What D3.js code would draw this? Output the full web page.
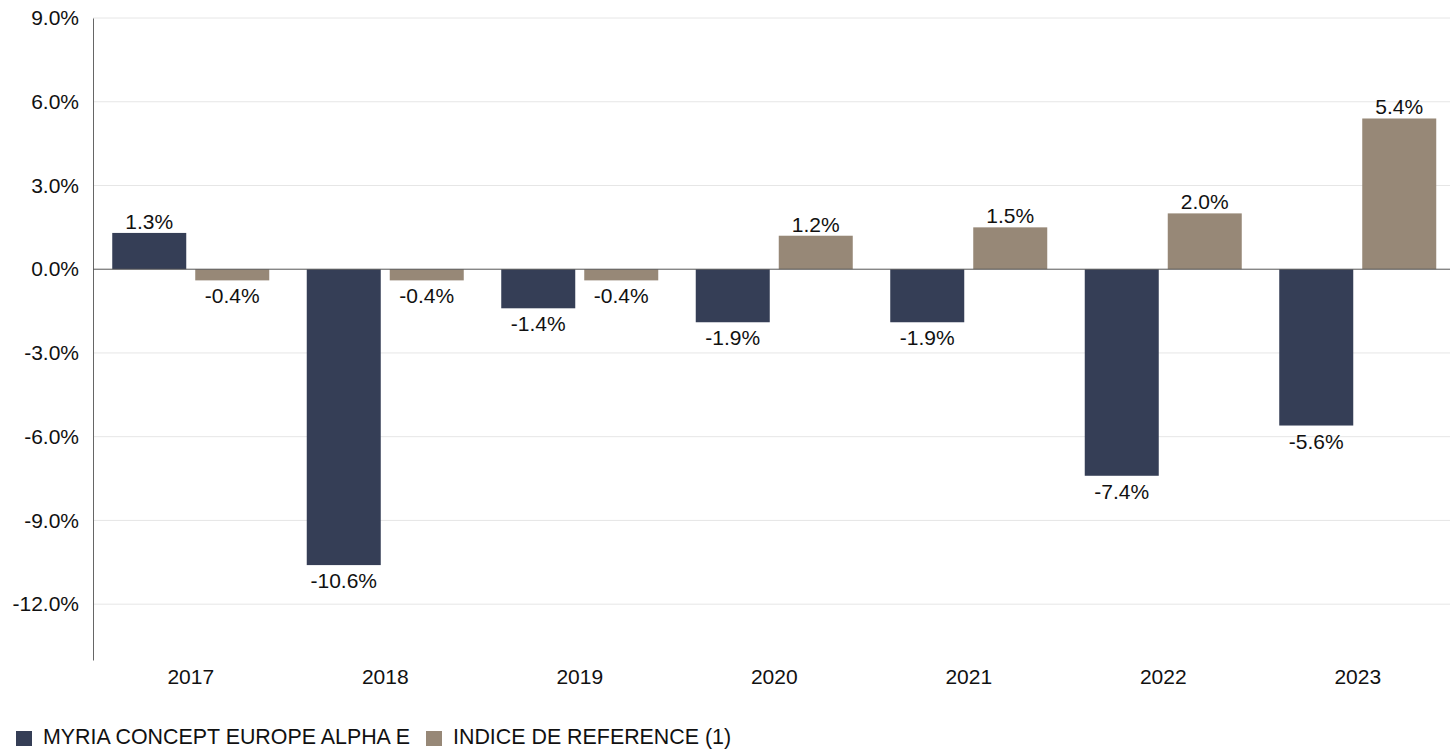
<!DOCTYPE html>
<html>
<head>
<meta charset="utf-8">
<script src="https://cdn.jsdelivr.net/npm/d3@7"></script>
<style>
  body { margin: 0; background: #fff; overflow: hidden; }
  text { font-family: "Liberation Sans", Arial, sans-serif; fill: #111; }
</style>
</head>
<body>
<div id="chart"></div>
<script>
// chart data
var years = ["2017", "2018", "2019", "2020", "2021", "2022", "2023"];
var seriesNames = ["MYRIA CONCEPT EUROPE ALPHA E", "INDICE DE REFERENCE (1)"];
var fundValues = [1.3, -10.6, -1.4, -1.9, -1.9, -7.4, -5.6];
var indexValues = [-0.4, -0.4, -0.4, 1.2, 1.5, 2.0, 5.4];
var yTicks = [-12, -9, -6, -3, 0, 3, 6, 9];
var colors = ["#353e56", "#978877"];

var svgWidth = 1450, svgHeight = 749;
var margin = { top: 18, right: 0, bottom: 89, left: 93 };
var chartWidth = svgWidth - margin.left - margin.right;
var chartHeight = svgHeight - margin.top - margin.bottom;

var pct = d => d.toFixed(1) + "%";

var svg = d3.select("#chart").append("svg")
    .attr("width", svgWidth)
    .attr("height", svgHeight)
    .style("display", "block");

var chartGroup = svg.append("g")
    .attr("transform", `translate(${margin.left}, ${margin.top})`);

var yScale = d3.scaleLinear()
    .domain([-14, 9])
    .range([chartHeight, 0]);

// the category bands run a little past the right edge, like the original
var xScale = d3.scaleBand()
    .domain(years)
    .range([0.5, 1362])
    .paddingInner(0.1928)
    .paddingOuter(0.0964);

var innerScale = d3.scaleBand()
    .domain([0, 1])
    .range([0, xScale.bandwidth()])
    .paddingInner(0.1084);

// gridlines
chartGroup.append("g")
    .selectAll("line")
    .data(yTicks.filter(t => t !== 0))
    .enter()
    .append("line")
    .attr("x1", 0)
    .attr("x2", chartWidth)
    .attr("y1", d => yScale(d))
    .attr("y2", d => yScale(d))
    .attr("stroke", "#e6e6e6")
    .attr("stroke-width", 1);

// y axis
var yAxis = d3.axisLeft(yScale)
    .tickValues(yTicks)
    .tickSize(0)
    .tickPadding(14)
    .tickFormat(pct);

var yAxisG = chartGroup.append("g").call(yAxis);
yAxisG.select(".domain").attr("stroke", "#666");
yAxisG.selectAll("text")
    .attr("font-size", 21)
    .attr("font-family", "Liberation Sans, Arial, sans-serif")
    .attr("fill", "#111");

// bars
var groups = years.map((y, i) => ({ year: y, vals: [fundValues[i], indexValues[i]] }));

var yearG = chartGroup.append("g")
    .selectAll("g")
    .data(groups)
    .enter()
    .append("g")
    .attr("transform", d => `translate(${xScale(d.year)}, 0)`);

var cells = yearG.selectAll("g.cell")
    .data(d => d.vals.map((v, k) => ({ v: v, k: k })))
    .enter()
    .append("g")
    .attr("class", "cell");

cells.append("rect")
    .attr("x", d => innerScale(d.k))
    .attr("width", innerScale.bandwidth())
    .attr("y", d => yScale(Math.max(0, d.v)))
    .attr("height", d => Math.abs(yScale(d.v) - yScale(0)))
    .attr("fill", d => colors[d.k]);

cells.append("text")
    .attr("x", d => innerScale(d.k) + innerScale.bandwidth() / 2)
    .attr("y", d => d.v >= 0 ? yScale(d.v) - 4 : yScale(d.v) + 23)
    .attr("text-anchor", "middle")
    .attr("font-size", 21)
    .text(d => pct(d.v));

// zero line
chartGroup.append("line")
    .attr("x1", 0)
    .attr("x2", chartWidth)
    .attr("y1", yScale(0))
    .attr("y2", yScale(0))
    .attr("stroke", "#555")
    .attr("stroke-width", 1);

// x labels
chartGroup.append("g")
    .selectAll("text")
    .data(years)
    .enter()
    .append("text")
    .attr("x", d => xScale(d) + xScale.bandwidth() / 2)
    .attr("y", chartHeight + 24)
    .attr("text-anchor", "middle")
    .attr("font-size", 21)
    .text(d => d);

// legend
var legend = svg.append("g").attr("transform", "translate(16, 737)");
var legendX = [0, 410];
var items = legend.selectAll("g")
    .data(seriesNames)
    .enter()
    .append("g")
    .attr("transform", (d, i) => `translate(${legendX[i]}, 0)`);

items.append("rect")
    .attr("x", 0)
    .attr("y", -6)
    .attr("width", 16)
    .attr("height", 15)
    .attr("fill", (d, i) => colors[i]);

items.append("text")
    .attr("x", 27)
    .attr("y", 7)
    .attr("font-size", 21.4)
    .text(d => d);
</script>
</body>
</html>
